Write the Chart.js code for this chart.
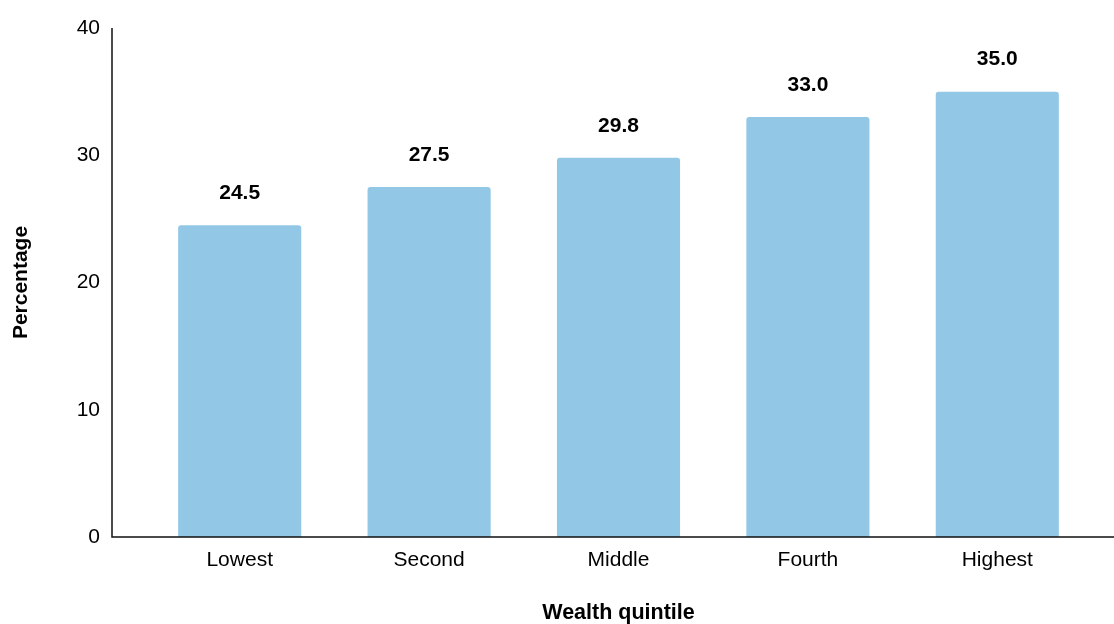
<!DOCTYPE html>
<html>
<head>
<meta charset="utf-8">
<script src="https://cdn.jsdelivr.net/npm/chart.js@4.4.1/dist/chart.umd.min.js"></script>
<style>
  html, body { margin: 0; padding: 0; background: #fff; }
  #wrap { width: 1114px; height: 624px; }
</style>
</head>
<body>
<div id="wrap"><canvas id="quintile"></canvas></div>
<script>
// --- data ---
const quintiles = ['Lowest', 'Second', 'Middle', 'Fourth', 'Highest'];
const percentages = [24.5, 27.5, 29.8, 33.0, 35.0];
const yTicks = [0, 10, 20, 30, 40];

const FONT = "'Liberation Sans', Arial, Helvetica, sans-serif";

// value labels above every bar
const barLabels = {
  id: 'barLabels',
  afterDatasetsDraw(chart) {
    const ctx = chart.ctx;
    const meta = chart.getDatasetMeta(0);
    ctx.save();
    ctx.font = 'bold 21px ' + FONT;
    ctx.fillStyle = '#000';
    ctx.textAlign = 'center';
    ctx.textBaseline = 'middle';
    meta.data.forEach((bar, i) => {
      ctx.fillText(percentages[i].toFixed(1), bar.x, bar.y - 32);
    });
    ctx.restore();
  }
};

// axis lines: y line sits a bit left of the plot area, x line runs to the edge
const axisLines = {
  id: 'axisLines',
  afterDraw(chart) {
    const ctx = chart.ctx;
    const y = chart.scales.y;
    const left = chart.chartArea.left - 33;
    ctx.save();
    ctx.strokeStyle = '#111';
    ctx.lineWidth = 1.5;
    ctx.beginPath();
    ctx.moveTo(left, y.getPixelForValue(40));
    ctx.lineTo(left, y.getPixelForValue(0));
    ctx.lineTo(chart.width, y.getPixelForValue(0));
    ctx.stroke();
    ctx.restore();
  }
};

new Chart(document.getElementById('quintile').getContext('2d'), {
  type: 'bar',
  data: {
    labels: quintiles,
    datasets: [{
      data: percentages,
      backgroundColor: '#93c7e6',
      borderRadius: { topLeft: 3, topRight: 3 },
      borderSkipped: 'bottom',
      categoryPercentage: 1,
      barPercentage: 0.65
    }]
  },
  options: {
    responsive: true,
    maintainAspectRatio: false,
    animation: false,
    layout: { padding: { top: 0, right: 22, bottom: 0, left: 0 } },
    plugins: {
      legend: { display: false },
      tooltip: { enabled: false }
    },
    scales: {
      x: {
        grid: { display: false, drawTicks: false },
        border: { display: false },
        ticks: { color: '#000', padding: 11, font: { family: FONT, size: 21 } },
        title: {
          display: true,
          text: 'Wealth quintile',
          color: '#000',
          font: { family: FONT, size: 21.5, weight: 'bold' },
          padding: { top: 0, bottom: -2 }
        },
        afterFit: s => { s.height = 87; }
      },
      y: {
        min: 0,
        max: 40,
        afterBuildTicks: s => { s.ticks = yTicks.map(v => ({ value: v })); },
        grid: { display: false, drawTicks: false },
        border: { display: false },
        ticks: { color: '#000', padding: 45, font: { family: FONT, size: 21 } },
        title: {
          display: true,
          text: 'Percentage',
          color: '#000',
          font: { family: FONT, size: 21, weight: 'bold' },
          padding: { top: 9, bottom: 0 }
        },
        afterFit: s => {
          s.width = 145;
          s.paddingTop = 28;
          s.paddingBottom = 0;
        }
      }
    }
  },
  plugins: [barLabels, axisLines]
});
</script>
</body>
</html>
